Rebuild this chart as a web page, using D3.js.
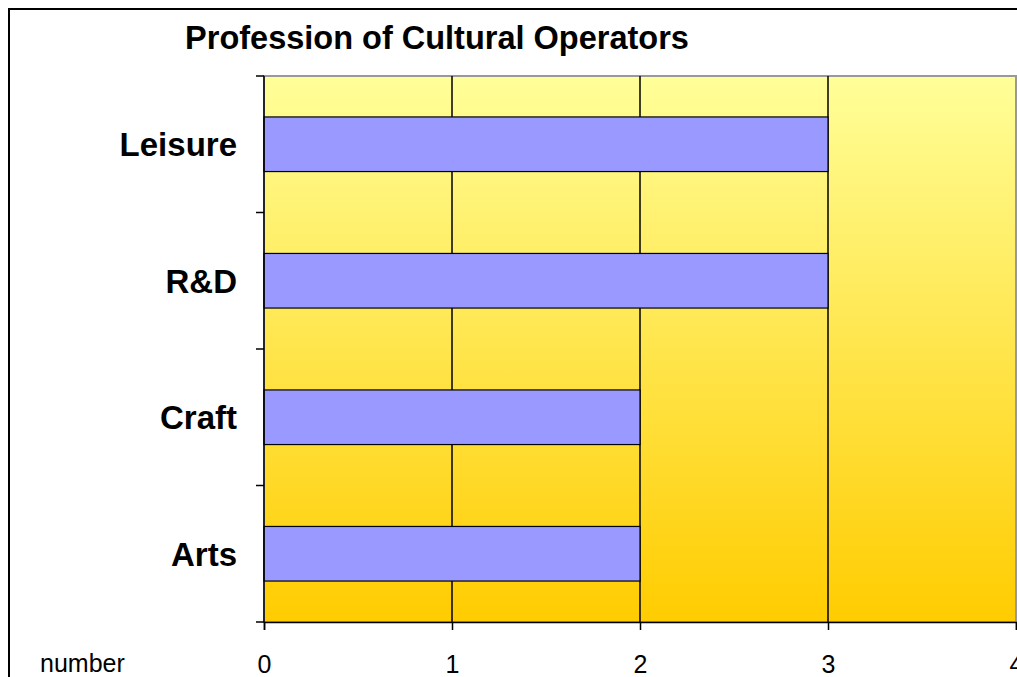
<!DOCTYPE html>
<html>
<head>
<meta charset="utf-8">
<script src="https://cdn.jsdelivr.net/npm/d3@7"></script>
<style>
  body { margin: 0; background: #fff; }
  text { font-family: "Liberation Sans", Arial, sans-serif; }
</style>
</head>
<body>
<div id="vis"></div>
<script>
const FRAME_WIDTH = 1017;
const FRAME_HEIGHT = 677;
const MARGINS = {left: 264, right: 1, top: 76, bottom: 55};

const VIS_WIDTH = FRAME_WIDTH - MARGINS.left - MARGINS.right;
const VIS_HEIGHT = FRAME_HEIGHT - MARGINS.top - MARGINS.bottom;

// data (top to bottom)
const categories = ["Leisure", "R&D", "Craft", "Arts"];
const values = [3, 3, 2, 2];
const xTicks = [0, 1, 2, 3, 4];

const FRAME = d3.select("#vis")
    .append("svg")
    .attr("width", FRAME_WIDTH)
    .attr("height", FRAME_HEIGHT);

// outer border
FRAME.append("rect")
    .attr("x", 9).attr("y", 9)
    .attr("width", FRAME_WIDTH + 20).attr("height", FRAME_HEIGHT + 20)
    .attr("fill", "none")
    .attr("stroke", "#000")
    .attr("stroke-width", 2);

const defs = FRAME.append("defs");
const grad = defs.append("linearGradient")
    .attr("id", "bg").attr("x1", 0).attr("y1", 0).attr("x2", 0).attr("y2", 1);
grad.append("stop").attr("offset", "0%").attr("stop-color", "#FFFF99");
grad.append("stop").attr("offset", "100%").attr("stop-color", "#FFCC00");

const X_SCALE = d3.scaleLinear().domain([0, 4]).range([0, VIS_WIDTH]);
const Y_SCALE = d3.scaleBand().domain(categories).range([0, VIS_HEIGHT])
    .paddingInner(0.6).paddingOuter(0.3);

const g = FRAME.append("g")
    .attr("transform", "translate(" + MARGINS.left + "," + MARGINS.top + ")");

g.append("rect")
    .attr("width", VIS_WIDTH).attr("height", VIS_HEIGHT)
    .attr("fill", "url(#bg)")
    .attr("stroke", "#999")
    .attr("stroke-width", 2);

// vertical gridlines
g.selectAll(".grid")
    .data(xTicks.slice(1, -1))
    .enter().append("line")
    .attr("x1", d => X_SCALE(d)).attr("x2", d => X_SCALE(d))
    .attr("y1", 0).attr("y2", VIS_HEIGHT)
    .attr("stroke", "#000").attr("stroke-width", 1.5);

// bars
g.selectAll(".bar")
    .data(values)
    .enter().append("rect")
    .attr("x", 0)
    .attr("y", (d, i) => Y_SCALE(categories[i]))
    .attr("width", d => X_SCALE(d))
    .attr("height", Y_SCALE.bandwidth())
    .attr("fill", "#9999FF")
    .attr("stroke", "#000")
    .attr("stroke-width", 1.2);

// y axis: line + ticks at band boundaries
const step = VIS_HEIGHT / categories.length;
g.append("line")
    .attr("x1", 0).attr("x2", 0).attr("y1", 0).attr("y2", VIS_HEIGHT)
    .attr("stroke", "#000").attr("stroke-width", 1.5);
g.selectAll(".ytick")
    .data(d3.range(categories.length + 1))
    .enter().append("line")
    .attr("x1", -8).attr("x2", 0)
    .attr("y1", d => d * step).attr("y2", d => d * step)
    .attr("stroke", "#000").attr("stroke-width", 1.5);
g.selectAll(".ylab")
    .data(categories)
    .enter().append("text")
    .attr("x", -27)
    .attr("y", d => Y_SCALE(d) + Y_SCALE.bandwidth() / 2)
    .attr("dy", "0.36em")
    .attr("text-anchor", "end")
    .attr("font-size", 33)
    .attr("font-weight", "bold")
    .text(d => d);

// x axis
const xAxis = g.append("g")
    .attr("transform", "translate(0," + VIS_HEIGHT + ")")
    .call(d3.axisBottom(X_SCALE).tickValues(xTicks).tickSize(8).tickPadding(25).tickFormat(d3.format("d")));
xAxis.select(".domain").attr("stroke", "#000").attr("stroke-width", 1.5);
xAxis.selectAll(".tick line").attr("stroke", "#000").attr("stroke-width", 1.5);
xAxis.selectAll(".tick text")
    .attr("font-size", 25)
    .attr("font-family", "Liberation Sans, Arial, sans-serif")
    .attr("fill", "#000");

FRAME.append("text")
    .attr("x", 40).attr("y", 672)
    .attr("font-size", 25)
    .text("number");

FRAME.append("text")
    .attr("x", 437).attr("y", 49)
    .attr("text-anchor", "middle")
    .attr("font-size", 32.5)
    .attr("font-weight", "bold")
    .text("Profession of Cultural Operators");
</script>
</body>
</html>
